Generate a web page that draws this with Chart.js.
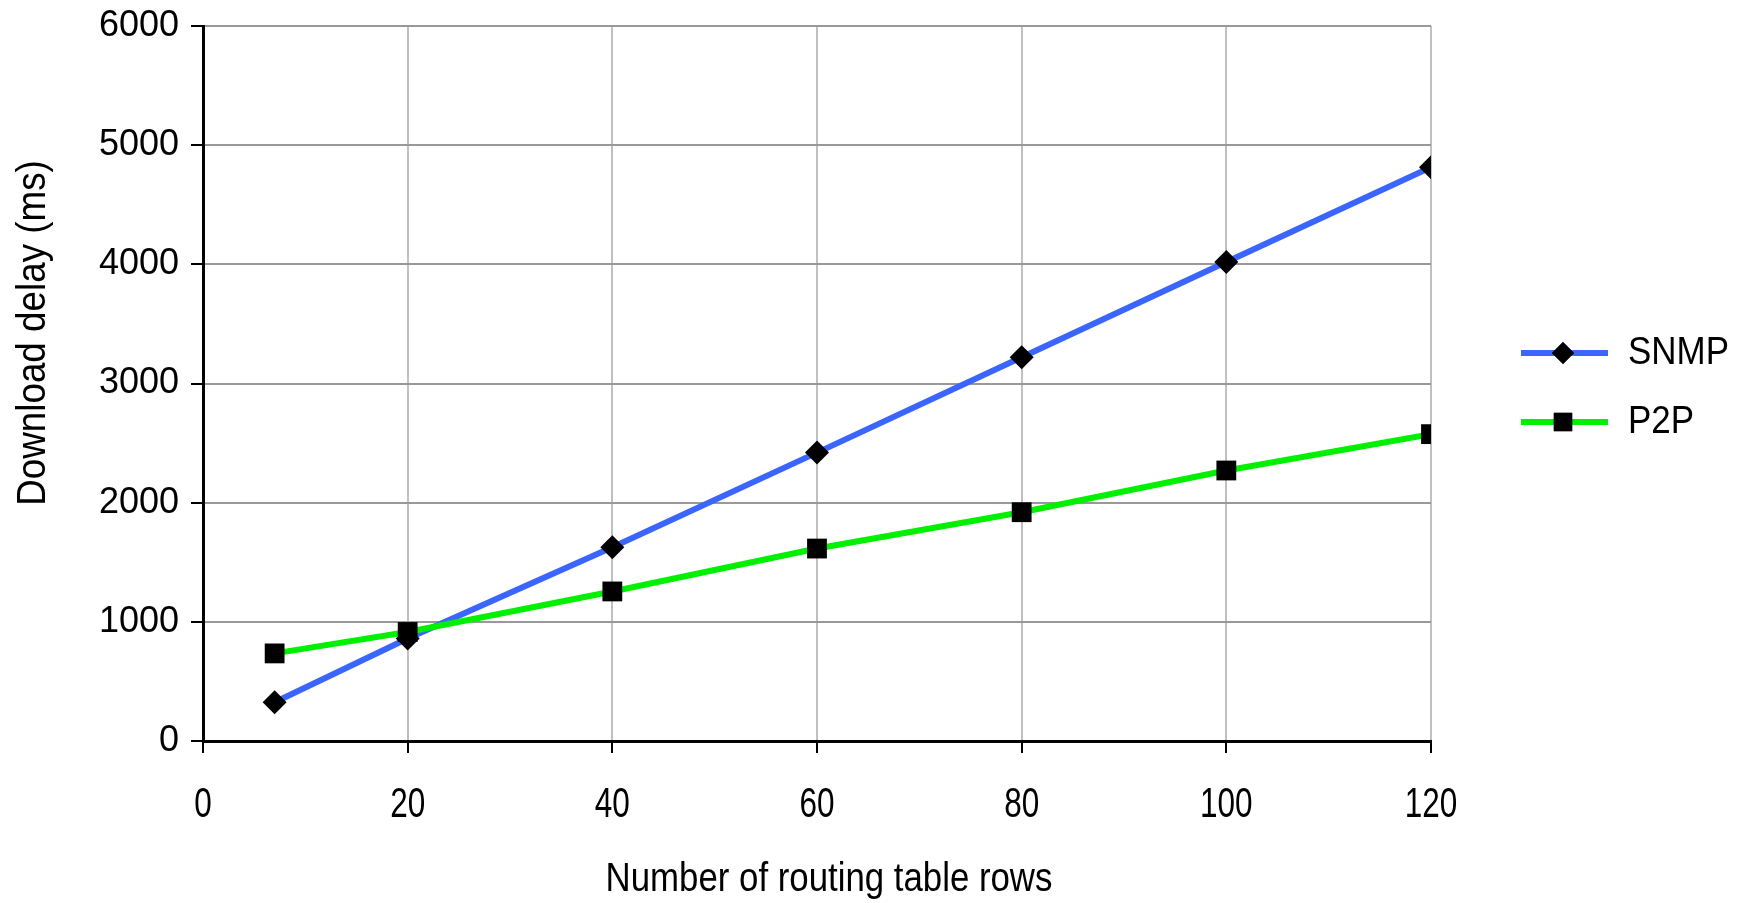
<!DOCTYPE html>
<html>
<head>
<meta charset="utf-8">
<script src="https://cdn.jsdelivr.net/npm/chart.js@4/dist/chart.umd.min.js"></script>
<style>
  html, body { margin: 0; padding: 0; background: #ffffff; }
  #wrap { width: 1744px; height: 903px; position: relative; }
</style>
</head>
<body>
<div id="wrap"><canvas id="c" width="1744" height="903"></canvas></div>
<script>
const rows = [7, 20, 40, 60, 80, 100, 120];
const snmpDelay = [325, 860, 1625, 2420, 3220, 4020, 4815];
const p2pDelay = [735, 915, 1255, 1615, 1920, 2270, 2575];
const seriesNames = ['SNMP', 'P2P'];
const xTitle = 'Number of routing table rows';
const yTitle = 'Download delay (ms)';

const REG = '"Liberation Sans", Arial, sans-serif';

const toXY = (xs, ys) => xs.map((x, i) => ({ x: x, y: ys[i] }));

function narrowText(ctx, text, x, y, size, sx, rot) {
  ctx.save();
  ctx.translate(x, y);
  if (rot) ctx.rotate(rot);
  ctx.scale(sx, 1);
  ctx.font = size + 'px ' + REG;
  ctx.fillStyle = '#000';
  ctx.textAlign = 'center';
  ctx.textBaseline = 'middle';
  ctx.fillText(text, 0, 0);
  ctx.restore();
}

const textPlugin = {
  id: 'narrowTexts',
  afterDraw(chart) {
    const ctx = chart.ctx;
    const xs = chart.scales.x;
    xs.ticks.forEach(t => {
      const px = xs.getPixelForValue(t.value);
      narrowText(ctx, String(t.value), px, 805, 42, 0.75, 0);
    });
    narrowText(ctx, xTitle, 829, 880, 40, 0.87, 0);
    narrowText(ctx, yTitle, 34, 333, 40, 0.92, -Math.PI / 2);

    const items = [
      { ds: chart.data.datasets[0], y: 353 },
      { ds: chart.data.datasets[1], y: 422 }
    ];
    ctx.save();
    items.forEach(it => {
      ctx.strokeStyle = it.ds.borderColor;
      ctx.lineWidth = it.ds.borderWidth;
      ctx.beginPath();
      ctx.moveTo(1521, it.y);
      ctx.lineTo(1608, it.y);
      ctx.stroke();
      Chart.helpers.drawPoint(ctx, {
        pointStyle: it.ds.pointStyle,
        radius: it.ds.pointStyle === 'rect' ? 13 : 11,
        rotation: 0,
        borderWidth: 0
      }, 1563, it.y);
      ctx.fillStyle = '#000';
      ctx.fill();
      ctx.font = '38px ' + REG;
      ctx.textBaseline = 'middle';
      ctx.textAlign = 'left';
      ctx.save();
      ctx.translate(1628, it.y + 1);
      ctx.scale(0.92, 1);
      ctx.fillText(it.ds.label, 0, 0);
      ctx.restore();
    });
    ctx.restore();
  }
};

new Chart(document.getElementById('c'), {
  type: 'line',
  data: {
    datasets: [
      {
        label: seriesNames[0],
        data: toXY(rows, snmpDelay),
        borderColor: '#3a66ff',
        borderWidth: 6,
        pointStyle: 'rectRot',
        pointRadius: 12,
        pointBackgroundColor: '#000',
        pointBorderColor: '#000',
        pointBorderWidth: 0,
        tension: 0,
        order: 1
      },
      {
        label: seriesNames[1],
        data: toXY(rows, p2pDelay),
        borderColor: '#00f000',
        borderWidth: 6,
        pointStyle: 'rect',
        pointRadius: 14,
        pointBackgroundColor: '#000',
        pointBorderColor: '#000',
        pointBorderWidth: 0,
        tension: 0,
        order: 0
      }
    ]
  },
  options: {
    responsive: false,
    animation: false,
    devicePixelRatio: 1,
    layout: { padding: { left: 0, top: 26, right: 313, bottom: 0 } },
    plugins: { legend: { display: false }, tooltip: { enabled: false } },
    scales: {
      x: {
        type: 'linear',
        min: 0, max: 120,
        afterFit(s) { s.height = 162; s.paddingLeft = 0; s.paddingRight = 0; },
        ticks: { stepSize: 20, display: false },
        grid: {
          color: '#c0c0c0',
          lineWidth: 2,
          tickColor: '#000',
          tickLength: 12,
          drawTicks: true
        },
        border: { color: '#000', width: 3 },
        title: { display: false }
      },
      y: {
        min: 0, max: 6000,
        afterFit(s) { s.width = 203; s.paddingTop = 0; s.paddingBottom = 0; },
        ticks: {
          stepSize: 1000,
          color: '#000',
          padding: 12,
          font: { family: REG, size: 36 },
          callback: v => String(v)
        },
        grid: {
          color: '#999999',
          lineWidth: 2,
          tickColor: '#000',
          tickLength: 12,
          drawTicks: true
        },
        border: { color: '#000', width: 3 },
        title: { display: false }
      }
    }
  },
  plugins: [textPlugin]
});
</script>
</body>
</html>
